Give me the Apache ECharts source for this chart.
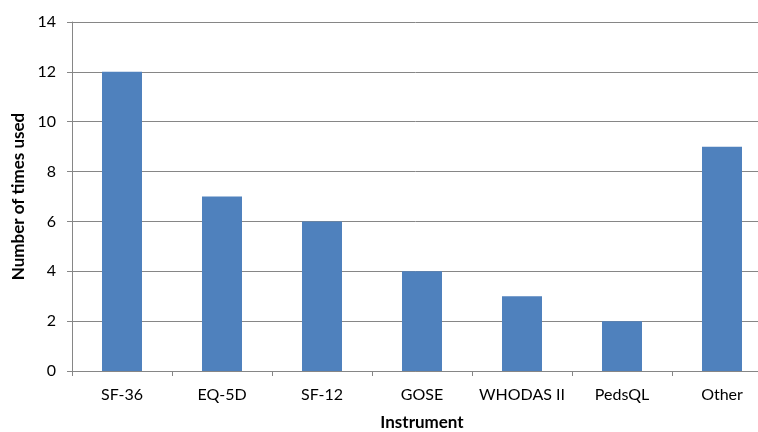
<!DOCTYPE html>
<html><head><meta charset="utf-8">
<script src="https://cdn.jsdelivr.net/npm/echarts@6/dist/echarts.min.js"></script>
<style>html,body{margin:0;padding:0;background:#fff}#c{width:758px;height:432px}</style>
</head><body><div id="c"></div>
<script>
var categories = ["SF-36", "EQ-5D", "SF-12", "GOSE", "WHODAS II", "PedsQL", "Other"];
var timesUsed = [12, 7, 6, 4, 3, 2, 9];
var yTicks = {min: 0, max: 14, interval: 2};

var chart = echarts.init(document.getElementById('c'), null, {renderer: 'canvas'});
var font = 'Lato, "Open Sans", sans-serif';
chart.setOption({
  animation: false,
  textStyle: {fontFamily: font},
  grid: {left: 72, top: 22, bottom: 61, right: -14, containLabel: false, outerBoundsMode: 'none'},
  xAxis: {
    type: 'category', data: categories,
    name: 'Instrument', nameLocation: 'middle', nameGap: 43,
    nameTextStyle: {fontFamily: font, fontWeight: 'bold', fontSize: 17, color: '#000'},
    axisLine: {lineStyle: {color: '#868686', width: 1}},
    axisTick: {show: true, length: 5, alignWithLabel: false, lineStyle: {color: '#868686'}},
    axisLabel: {fontFamily: font, fontSize: 16, color: '#000', margin: 16, interval: 0}
  },
  yAxis: {
    type: 'value', min: yTicks.min, max: yTicks.max, interval: yTicks.interval,
    name: 'Number of times used', nameLocation: 'middle', nameGap: 44, nameRotate: 90,
    nameTextStyle: {fontFamily: font, fontWeight: 'bold', fontSize: 17, color: '#000'},
    axisLine: {show: true, lineStyle: {color: '#868686', width: 1}},
    axisTick: {show: true, length: 5, lineStyle: {color: '#868686'}},
    axisLabel: {fontFamily: font, fontSize: 16, color: '#000', margin: 16},
    splitLine: {show: true, lineStyle: {color: '#868686', width: 1}}
  },
  series: [{
    type: 'bar', data: timesUsed, barWidth: 40,
    itemStyle: {color: '#4F81BD'}
  }]
});
</script></body></html>
